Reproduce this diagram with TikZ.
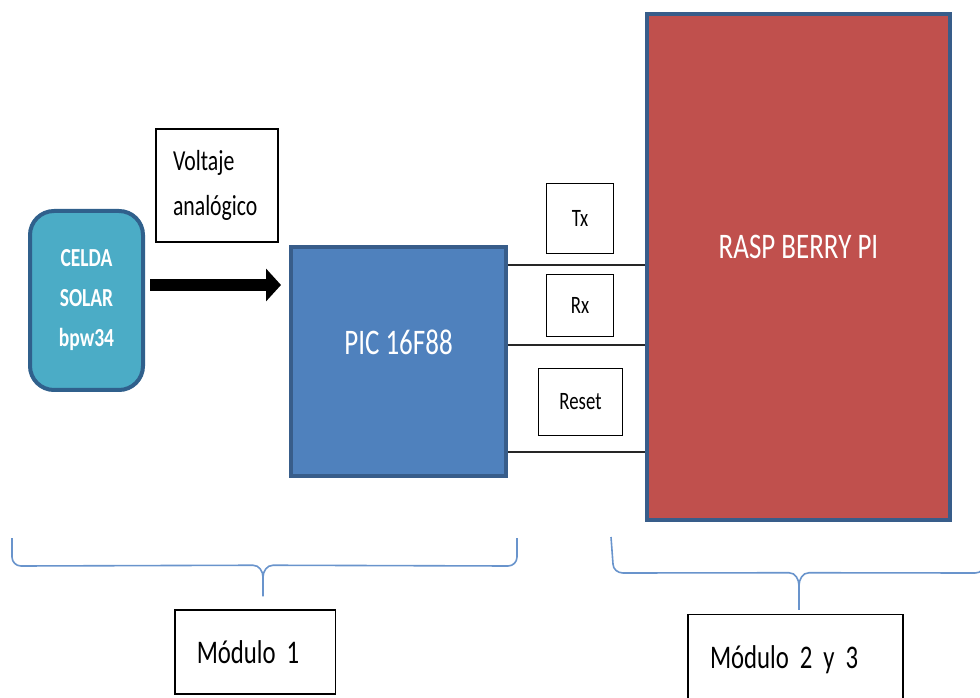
\documentclass[tikz,border=0pt]{standalone}
\usepackage{fontspec}
\setmainfont{Carlito}[FakeStretch=0.75]
\usetikzlibrary{arrows.meta,positioning}

\definecolor{celdafill}{RGB}{75,172,198}
\definecolor{celdaline}{RGB}{48,96,140}
\definecolor{picfill}{RGB}{79,129,189}
\definecolor{rpifill}{RGB}{192,80,77}
\definecolor{blockline}{RGB}{56,93,138}
\definecolor{braceline}{RGB}{105,148,204}

% narrow font size with narrower word spaces
\newcommand\narrowsize[2]{\fontsize{#1}{#2}\selectfont\spaceskip=0.17em plus 0.05em minus 0.03em\relax}

\begin{document}
\begin{tikzpicture}[x=1pt, y=1pt,
    celda node/.style={draw=celdaline, fill=celdafill, line width=4pt, rounded corners=24pt,
                       minimum width=113pt, minimum height=179pt, text=white, align=center,
                       font=\bfseries\narrowsize{26}{40}},
    block node/.style={draw=blockline, line width=4pt, inner sep=0pt},
    block text/.style={text=white, font=\narrowsize{36}{40}},
    note node/.style={draw, line width=1.3pt, align=left, inner xsep=17pt,
                      font=\narrowsize{29}{45}},
    signal node/.style={draw, line width=1.3pt, inner sep=0pt, font=\narrowsize{25}{28}},
    modulo node/.style={draw, line width=1.5pt, align=left, inner xsep=22pt, inner ysep=0pt,
                        font=\narrowsize{33}{38}},
    wire/.style={line width=1.5pt, draw=black!85},
    brace line/.style={draw=braceline, line width=1.6pt},
    big arrow/.style={line width=12pt, -{Triangle[length=15pt,width=32pt]}}]

\useasboundingbox (0,0) rectangle (980,697);

% modulo 1
\node[celda node] (celda) at (86.5,396.5) {CELDA\\SOLAR\\bpw34};
\node[note node, minimum height=113pt, text width=88pt] (voltaje) at (217,511.5) {Voltaje\\analógico};
\node[block node, fill=picfill, minimum width=215pt, minimum height=229pt] (pic) at (398.5,335.5) {};
\node[block text] (pictext) at ([yshift=19.5pt]pic.center) {PIC 16F88};

% modulo 2 y 3
\node[block node, fill=rpifill, minimum width=303pt, minimum height=506pt] (rpi) at (798.5,430) {};
\node[block text] (rpitext) at ([yshift=20pt]rpi.center) {RASP BERRY PI};

\node[signal node, minimum width=67pt, minimum height=70pt] (tx) at (580,478.5) {Tx};
\node[signal node, minimum width=67pt, minimum height=62pt] (rx) at (580,391.5) {Rx};
\node[signal node, minimum width=84pt, minimum height=67pt] (reset) at (580.5,295) {Reset};

\node[modulo node, minimum height=84pt, text width=116.5pt] (mod1) at (255,45) {Módulo 1};
\node[modulo node, minimum height=90pt, text width=171pt] (mod2) at (795.5,37.5) {Módulo 2 y 3};

% conexiones
\coordinate (vin) at ([shift={(5pt,15.5pt)}]celda.east);
\draw[big arrow, shorten >=8pt] (vin) -- (vin -| pic.west);

\coordinate (txpin) at ([yshift=96.5pt]pic.east);
\coordinate (rxpin) at ([yshift=16.5pt]pic.east);
\coordinate (resetpin) at ([yshift=-90.5pt]pic.east);
\draw[wire] (txpin) -- (txpin -| rpi.west);
\draw[wire] (rxpin) -- (rxpin -| rpi.west);
\draw[wire] (resetpin) -- (resetpin -| rpi.west);

% llaves
\coordinate (tip1) at ([shift={(8pt,13pt)}]mod1.north);
\draw[brace line] (12,159) -- (12,140) to[out=-90,in=180] (21,131)
    -- ([shift={(-10pt,31pt)}]tip1) to[out=0,in=90] ([yshift=19pt]tip1) -- (tip1);
\draw[brace line] (517,159) -- (517,140) to[out=-90,in=0] (508,131)
    -- ([shift={(10pt,31pt)}]tip1) to[out=180,in=90] ([yshift=19pt]tip1);

\coordinate (tip2) at ([shift={(3.5pt,4pt)}]mod2.north);
\draw[brace line] (611,160) -- (613,133) to[out=-90,in=180] (623,124)
    -- ([shift={(-10pt,37pt)}]tip2) to[out=0,in=90] ([yshift=24pt]tip2) -- (tip2);
\draw[brace line] (987,160) -- (985,133) to[out=-90,in=0] (975,124)
    -- ([shift={(10pt,37pt)}]tip2) to[out=180,in=90] ([yshift=24pt]tip2);

\end{tikzpicture}
\end{document}
